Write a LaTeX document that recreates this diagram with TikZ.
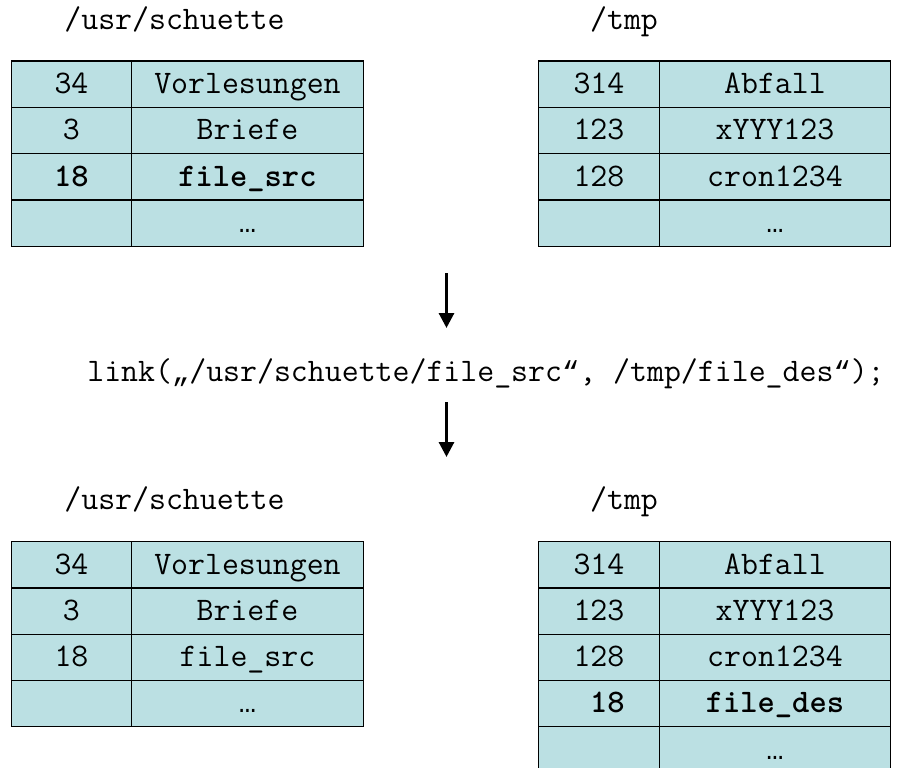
\documentclass[tikz,border=0pt]{standalone}
\usepackage{fontspec}
\newfontfamily\qfont{Liberation Mono}
\usetikzlibrary{arrows.meta}
\definecolor{cellfill}{HTML}{BBE0E3}
\newcommand\monofs{\fontsize{32.9pt}{38pt}\selectfont\ttfamily}
\newcommand\myopenq{{\fontsize{28.8pt}{34pt}\selectfont\qfont „}}
\newcommand\mycloseq{{\fontsize{28.8pt}{34pt}\selectfont\qfont “}}
\newcommand\mydots{{\fontsize{28.8pt}{34pt}\selectfont\qfont …}}
\tikzset{
  cell/.style={draw=black, line width=1.4pt, fill=cellfill, inner sep=0pt,
    anchor=north west, minimum height=46.25pt, text height=22pt, text depth=3.2pt,
    font=\monofs},
  numcell/.style={cell, minimum width=120.5pt},
  namecell/.style={cell, minimum width=231.5pt},
  lbl/.style={inner sep=0pt, anchor=base, font=\monofs},
  arr/.style={line width=3pt, -{Triangle[width=15pt,length=15pt]}}
}
\begin{document}
\begin{tikzpicture}[x=1pt,y=-1pt]
\useasboundingbox (0,0) rectangle (903,768);
\clip (0,0) rectangle (903,768);

% titles
\node[lbl] (tA) at (174.5,29.5) {/usr/schuette};
\node[lbl] (tB) at (624,29.5) {/tmp};
\node[lbl] (bA) at (174.5,509.5) {/usr/schuette};
\node[lbl] (bB) at (624,509.5) {/tmp};

% top left table
\foreach \n/\f [count=\i from 0] in {34/Vorlesungen, 3/Briefe, {\textbf{18}}/{\textbf{file\_src}}, {}/\mydots} {
  \node[numcell] (TLn\i) at (10.5,{60.5+46.25*\i}) {\n};
  \node[namecell] (TLf\i) at (131,{60.5+46.25*\i}) {\f};
}
% top right table
\foreach \n/\f [count=\i from 0] in {314/Abfall, 123/xYYY123, 128/cron1234, {}/\mydots} {
  \node[numcell] (TRn\i) at (538,{60.5+46.25*\i}) {\n};
  \node[namecell] (TRf\i) at (658.5,{60.5+46.25*\i}) {\f};
}
% bottom left table
\foreach \n/\f [count=\i from 0] in {34/Vorlesungen, 3/Briefe, 18/{file\_src}, {}/\mydots} {
  \node[numcell] (BLn\i) at (10.5,{541+46.25*\i}) {\n};
  \node[namecell] (BLf\i) at (131,{541+46.25*\i}) {\f};
}
% bottom right table
\foreach \n/\f [count=\i from 0] in {314/Abfall, 123/xYYY123, 128/cron1234, {\hphantom{1}\textbf{18}}/{\textbf{file\_des}}, {}/\mydots} {
  \node[numcell] (BRn\i) at (538,{541+46.25*\i}) {\n};
  \node[namecell] (BRf\i) at (658.5,{541+46.25*\i}) {\f};
}

% system call
\node[lbl] (call) at (486,381) {link(\myopenq/usr/schuette/file\_src\mycloseq, /tmp/file\_des\mycloseq);};

% arrows
\coordinate (a1s) at (446.5,273);
\coordinate (a1e) at (446.5,328);
\coordinate (a2s) at (446.5,402);
\coordinate (a2e) at (446.5,457);
\draw[arr] (a1s) -- (a1e);
\draw[arr] (a2s) -- (a2e);
\end{tikzpicture}
\end{document}
